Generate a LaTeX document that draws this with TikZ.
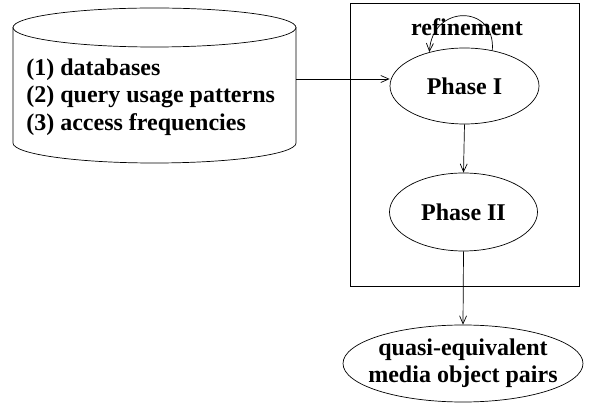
\documentclass[tikz,border=0pt]{standalone}
\usepackage{fontspec}
\setmainfont{Liberation Serif}
\usetikzlibrary{arrows.meta,shapes.geometric}
\begin{document}
\begin{tikzpicture}[x=1pt,y=-1pt,line width=0.7pt,
  txt/.style={font=\bfseries\fontsize{24}{27.5}\selectfont},
  ell/.style={draw,ellipse,inner sep=0pt,txt},
  arr/.style={-{Straight Barb[length=8pt,width=7pt]}}]
\useasboundingbox (0,0) rectangle (592,403);
% cylinder
\draw (13,27.5) arc[start angle=180,end angle=-180,x radius=141.5,y radius=19.5];
\draw (13,27.5) -- (13,143) arc[start angle=180,end angle=360,x radius=141.5,y radius=-20] -- (296,27.5);
\node[txt,align=left,anchor=west,inner sep=0pt] (db) at (26,97) {(1) databases\\(2) query usage patterns\\(3) access frequencies};
\coordinate (dbout) at (296,79);
% frame
\node[draw,minimum width=229pt,minimum height=283pt,inner sep=0pt] (frame) at (464.5,144.5) {};
% phases
\node[ell,minimum width=149pt,minimum height=76pt] (p1) at (464.5,86) {Phase I};
\node[ell,minimum width=148pt,minimum height=78pt] (p2) at (463.5,212) {Phase II};
\node[ell,minimum width=240pt,minimum height=77pt,inner xsep=-12pt,align=center,font=\bfseries\fontsize{24}{27}\selectfont] (out) at (463,363.5) {quasi-equivalent\\media object pairs};
\node[txt] (ref) at (467,27) {refinement};
% connectors
\draw[arr] (dbout) -- (dbout -| p1.west);
\draw[arr] (p1.south) -- (p2.north);
\draw[arr] (p2.south) -- (out.north);
\draw[arr] (p1.52) .. controls (496,4) and (432,4) .. (p1.136);
\end{tikzpicture}
\end{document}
